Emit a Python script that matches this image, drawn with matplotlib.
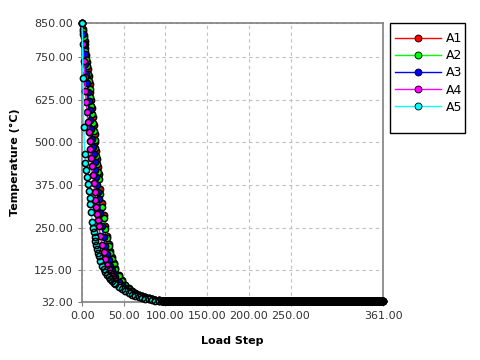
import matplotlib
matplotlib.use('Agg')
import matplotlib.pyplot as plt
from matplotlib.patches import Rectangle

head_steps = list(range(0, 21)) + list(range(22, 41, 2)) + list(range(44, 93, 4))
# flat tail, every curve sits on ~34 from here to the end
tail_steps = list(range(96, 362))
tail_temp = 34.0

a1 = [850, 832, 814, 796, 777, 757, 737, 716, 694, 672, 648, 624, 600, 575, 550, 525, 500, 476, 452, 429, 406,
      362, 322, 286, 254, 226, 202, 181, 163, 147, 133,
      112, 96, 83, 73, 65, 59, 54, 50, 47, 44, 41, 39, 37]
a2 = [850, 828, 808, 788, 767, 746, 724, 702, 680, 656, 632, 608, 583, 558, 533, 508, 484, 460, 437, 414, 392,
      350, 312, 278, 247, 220, 197, 177, 159, 144, 130,
      109, 93, 81, 71, 64, 58, 53, 49, 46, 43, 41, 39, 37]
a3 = [850, 818, 788, 758, 730, 702, 675, 648, 621, 594, 567, 538, 510, 488, 466, 444, 420, 398, 376, 354, 333,
      292, 255, 222, 195, 173, 155, 139, 126, 115, 106,
      92, 81, 72, 65, 60, 56, 52, 49, 46, 43, 41, 39, 37]
a4 = [850, 790, 738, 692, 652, 618, 588, 560, 532, 505, 480, 455, 430, 405, 380, 356, 332, 310, 290, 272, 256,
      226, 200, 178, 158, 142, 129, 118, 108, 100, 93,
      82, 73, 66, 61, 57, 53, 50, 47, 45, 42, 40, 38, 36]
a5 = [850, 690, 545, 465, 440, 418, 398, 378, 358, 338, 318, 296, 268, 250, 236, 222, 210, 198, 187, 177, 168,
      152, 139, 129, 120, 112, 105, 99, 93, 88, 84,
      76, 69, 63, 58, 54, 50, 47, 44, 42, 40, 38, 36, 35]

series = [('A1', a1, '#ff0000'), ('A2', a2, '#00ff00'), ('A3', a3, '#0000ff'),
          ('A4', a4, '#ff00ff'), ('A5', a5, '#00ffff')]

x_ticks = [0, 50, 100, 150, 200, 250, 361]
y_ticks = [32, 125, 250, 375, 500, 625, 750, 850]


def main():
    fig = plt.figure(figsize=(4.8, 3.6), dpi=100)
    ax = fig.add_axes([0.171, 0.161, 0.627, 0.775])

    steps = head_steps + tail_steps
    for name, temps, color in series:
        values = temps + [tail_temp] * len(tail_steps)
        # fills first, outlines on top so dense runs of points turn black
        ax.plot(steps, values, color=color, linewidth=1, marker='o', markersize=4.5,
                markerfacecolor=color, markeredgewidth=0, label=name, clip_on=False, zorder=3)
        ax.plot(steps, values, linestyle='none', marker='o', markersize=4.5,
                markerfacecolor='none', markeredgecolor='black', markeredgewidth=1.1,
                clip_on=False, zorder=3)

    ax.set_xlim(0, 361)
    ax.set_ylim(32, 850)
    ax.set_xticks(x_ticks)
    ax.set_yticks(y_ticks)
    ax.set_xticklabels(['%.2f' % v for v in x_ticks])
    ax.set_yticklabels(['%.2f' % v for v in y_ticks])
    ax.tick_params(labelsize=8, colors='#333333', length=3, color='#808080')

    ax.grid(True, color='#c0c0c0', linestyle=(0, (3, 3)), linewidth=0.8)
    for side in ['left', 'bottom', 'top', 'right']:
        ax.spines[side].set_color('#808080')
        ax.spines[side].set_linewidth(1.2)

    ax.set_xlabel('Load Step', fontsize=8, fontweight='bold', labelpad=11)
    ax.set_ylabel('Temperature (°C)', fontsize=8, fontweight='bold', labelpad=10)

    handles, labels = ax.get_legend_handles_labels()
    leg = ax.legend(handles, labels, loc='upper left', bbox_to_anchor=(0.805, 0.935),
                    bbox_transform=fig.transFigure, borderaxespad=0, fontsize=9,
                    labelspacing=0.33, handlelength=3.7, handletextpad=0.35,
                    borderpad=0.7, frameon=False)
    for line in leg.get_lines():
        line.set_markersize(5)
        line.set_markeredgecolor('black')
        line.set_markeredgewidth(0.6)
    fig.patches.append(Rectangle((0.8125, 0.6314), 0.156, 0.3056, transform=fig.transFigure,
                                 fill=False, edgecolor='black', linewidth=1))

    fig.savefig('out.png', dpi=100)


if __name__ == '__main__':
    main()
